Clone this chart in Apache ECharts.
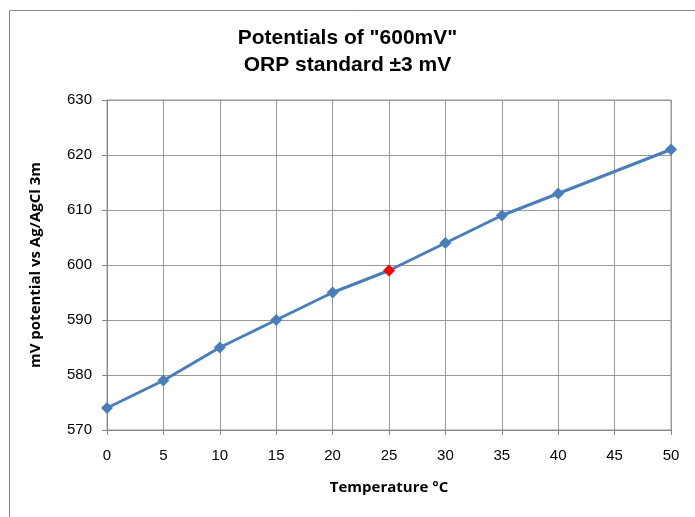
<!DOCTYPE html>
<html><head><meta charset="utf-8">
<script src="https://cdn.jsdelivr.net/npm/echarts@6/dist/echarts.min.js"></script>
<style>html,body{margin:0;padding:0;background:#fff}#c{width:695px;height:517px}</style>
</head><body><div id="c"></div>
<script>
const temperatures = [0, 5, 10, 15, 20, 25, 30, 35, 40, 50];
const potentials = [574, 579, 585, 590, 595, 599, 604, 609, 613, 621];
const highlightTemp = 25;
const titleLines = ['Potentials of "600mV"', 'ORP standard \u00b13 mV'];
const xName = 'Temperature \u00b0C';
const yName = 'mV potential vs Ag/AgCl 3m';

const narrow = '"Liberation Sans Narrow", "Liberation Sans", Arial, sans-serif';
const chart = echarts.init(document.getElementById('c'));
const data = temperatures.map((t, i) => {
  const d = { value: [t, potentials[i]] };
  if (t === highlightTemp) d.itemStyle = { color: '#ff0000' };
  return d;
});
chart.setOption({
  animation: false,
  backgroundColor: '#fff',
  graphic: [{
    type: 'rect', left: 7, top: 8, shape: { width: 700, height: 520 },
    style: { fill: 'none', stroke: '#888', lineWidth: 1 }, silent: true, z: -1
  }],
  title: {
    text: titleLines.join('\n'), left: 'center', top: 20,
    textStyle: { fontFamily: narrow, fontWeight: 'bold', fontSize: 21, lineHeight: 27, color: '#000' }
  },
  grid: { left: 107, right: 24, top: 100, bottom: 87, show: true, borderColor: '#999', borderWidth: 1 },
  xAxis: {
    type: 'value', min: 0, max: 50, interval: 5,
    name: xName, nameLocation: 'middle', nameGap: 50,
    nameTextStyle: { fontFamily: 'Open Sans, sans-serif', fontWeight: 'bold', fontSize: 15, color: '#000' },
    axisLine: { lineStyle: { color: '#888' } },
    axisTick: { show: true, length: 5, lineStyle: { color: '#888' } },
    axisLabel: { fontFamily: narrow, fontSize: 15, color: '#000', margin: 18 },
    splitLine: { show: true, lineStyle: { color: '#999', width: 1 } }
  },
  yAxis: {
    type: 'value', min: 570, max: 630, interval: 10,
    name: yName, nameLocation: 'middle', nameGap: 64, nameRotate: 90,
    nameTextStyle: { fontFamily: 'Open Sans, sans-serif', fontWeight: 'bold', fontSize: 15, color: '#000' },
    axisLine: { show: true, lineStyle: { color: '#888' } },
    axisTick: { show: true, length: 5, lineStyle: { color: '#888' } },
    axisLabel: { fontFamily: narrow, fontSize: 15, color: '#000', margin: 15 },
    splitLine: { show: true, lineStyle: { color: '#999', width: 1 } }
  },
  series: [{
    type: 'line', data: data, symbol: 'diamond', symbolSize: 12,
    lineStyle: { color: '#4a7ebb', width: 3 },
    itemStyle: { color: '#4a7ebb' }
  }]
});
</script></body></html>
